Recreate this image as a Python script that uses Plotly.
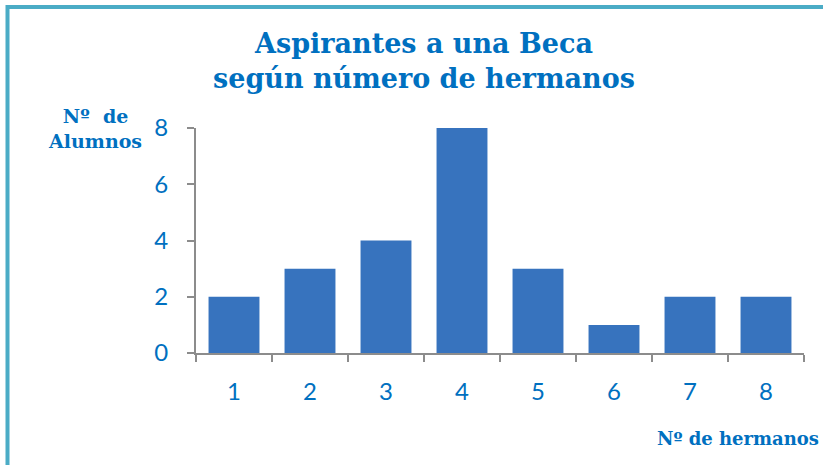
import plotly.graph_objects as go

hermanos = [1, 2, 3, 4, 5, 6, 7, 8]
alumnos = [2, 3, 4, 8, 3, 1, 2, 2]
y_ticks = [0, 2, 4, 6, 8]

blue_text = '#0070C0'
bar_color = '#3773BE'
axis_gray = '#8C8C8C'
frame = '#4BACC6'

fig = go.Figure(go.Bar(
    x=hermanos,
    y=alumnos,
    width=0.67,
    marker=dict(color=bar_color, line=dict(width=0)),
))

fig.update_layout(
    width=823,
    height=465,
    margin=dict(l=196, r=19, t=128, b=112),
    paper_bgcolor='white',
    plot_bgcolor='white',
    showlegend=False,
    font=dict(family='Lato, Open Sans, sans-serif', color=blue_text),
)

fig.update_xaxes(
    range=[0.5, 8.5],
    tickvals=hermanos,
    ticktext=[str(h) for h in hermanos],
    ticks='',
    showgrid=False,
    zeroline=False,
    showline=True,
    linecolor=axis_gray,
    linewidth=2,
    tickfont=dict(size=24, color=blue_text),
    ticklabelstandoff=16,
    minor=dict(ticks='outside', tick0=0.5, dtick=1, ticklen=7, tickwidth=2,
               tickcolor=axis_gray, showgrid=False),
)
fig.update_yaxes(
    range=[0, 8],
    tickvals=y_ticks,
    ticks='outside',
    ticklen=7,
    tickwidth=2,
    tickcolor=axis_gray,
    showgrid=False,
    zeroline=False,
    showline=True,
    linecolor=axis_gray,
    linewidth=2,
    tickfont=dict(size=24, color=blue_text),
    ticklabelstandoff=14,
)

serif = 'DejaVu Serif, Liberation Serif, serif'

# title
fig.add_annotation(
    text='<b>Aspirantes a una Beca<br>según número de hermanos</b>',
    xref='paper', yref='paper', x=(424 - 196) / 608, y=(353 - 61) / 225,
    xanchor='center', yanchor='middle', showarrow=False,
    font=dict(family=serif, size=27, color=blue_text),
)
# axis titles
fig.add_annotation(
    text='<b>Nº  de<br>Alumnos</b>',
    xref='paper', yref='paper', x=(95 - 196) / 608, y=(353 - 128) / 225,
    xanchor='center', yanchor='middle', showarrow=False,
    font=dict(family=serif, size=19, color=blue_text),
)
fig.add_annotation(
    text='<b>Nº de hermanos</b>',
    xref='paper', yref='paper', x=(821 - 196) / 608, y=(353 - 438) / 225,
    xanchor='right', yanchor='middle', showarrow=False,
    font=dict(family=serif, size=18, color=blue_text),
)

# frame lines on top and left
fig.add_shape(type='line', xref='paper', yref='paper',
              x0=(7.5 - 196) / 608, x1=(830 - 196) / 608,
              y0=(353 - 7) / 225, y1=(353 - 7) / 225,
              line=dict(color=frame, width=4))
fig.add_shape(type='line', xref='paper', yref='paper',
              x0=(7.5 - 196) / 608, x1=(7.5 - 196) / 608,
              y0=(353 - 5) / 225, y1=(353 - 470) / 225,
              line=dict(color=frame, width=4))

fig.write_html('out.html', config={'displayModeBar': False},
               post_script="document.body.style.margin='0';")
